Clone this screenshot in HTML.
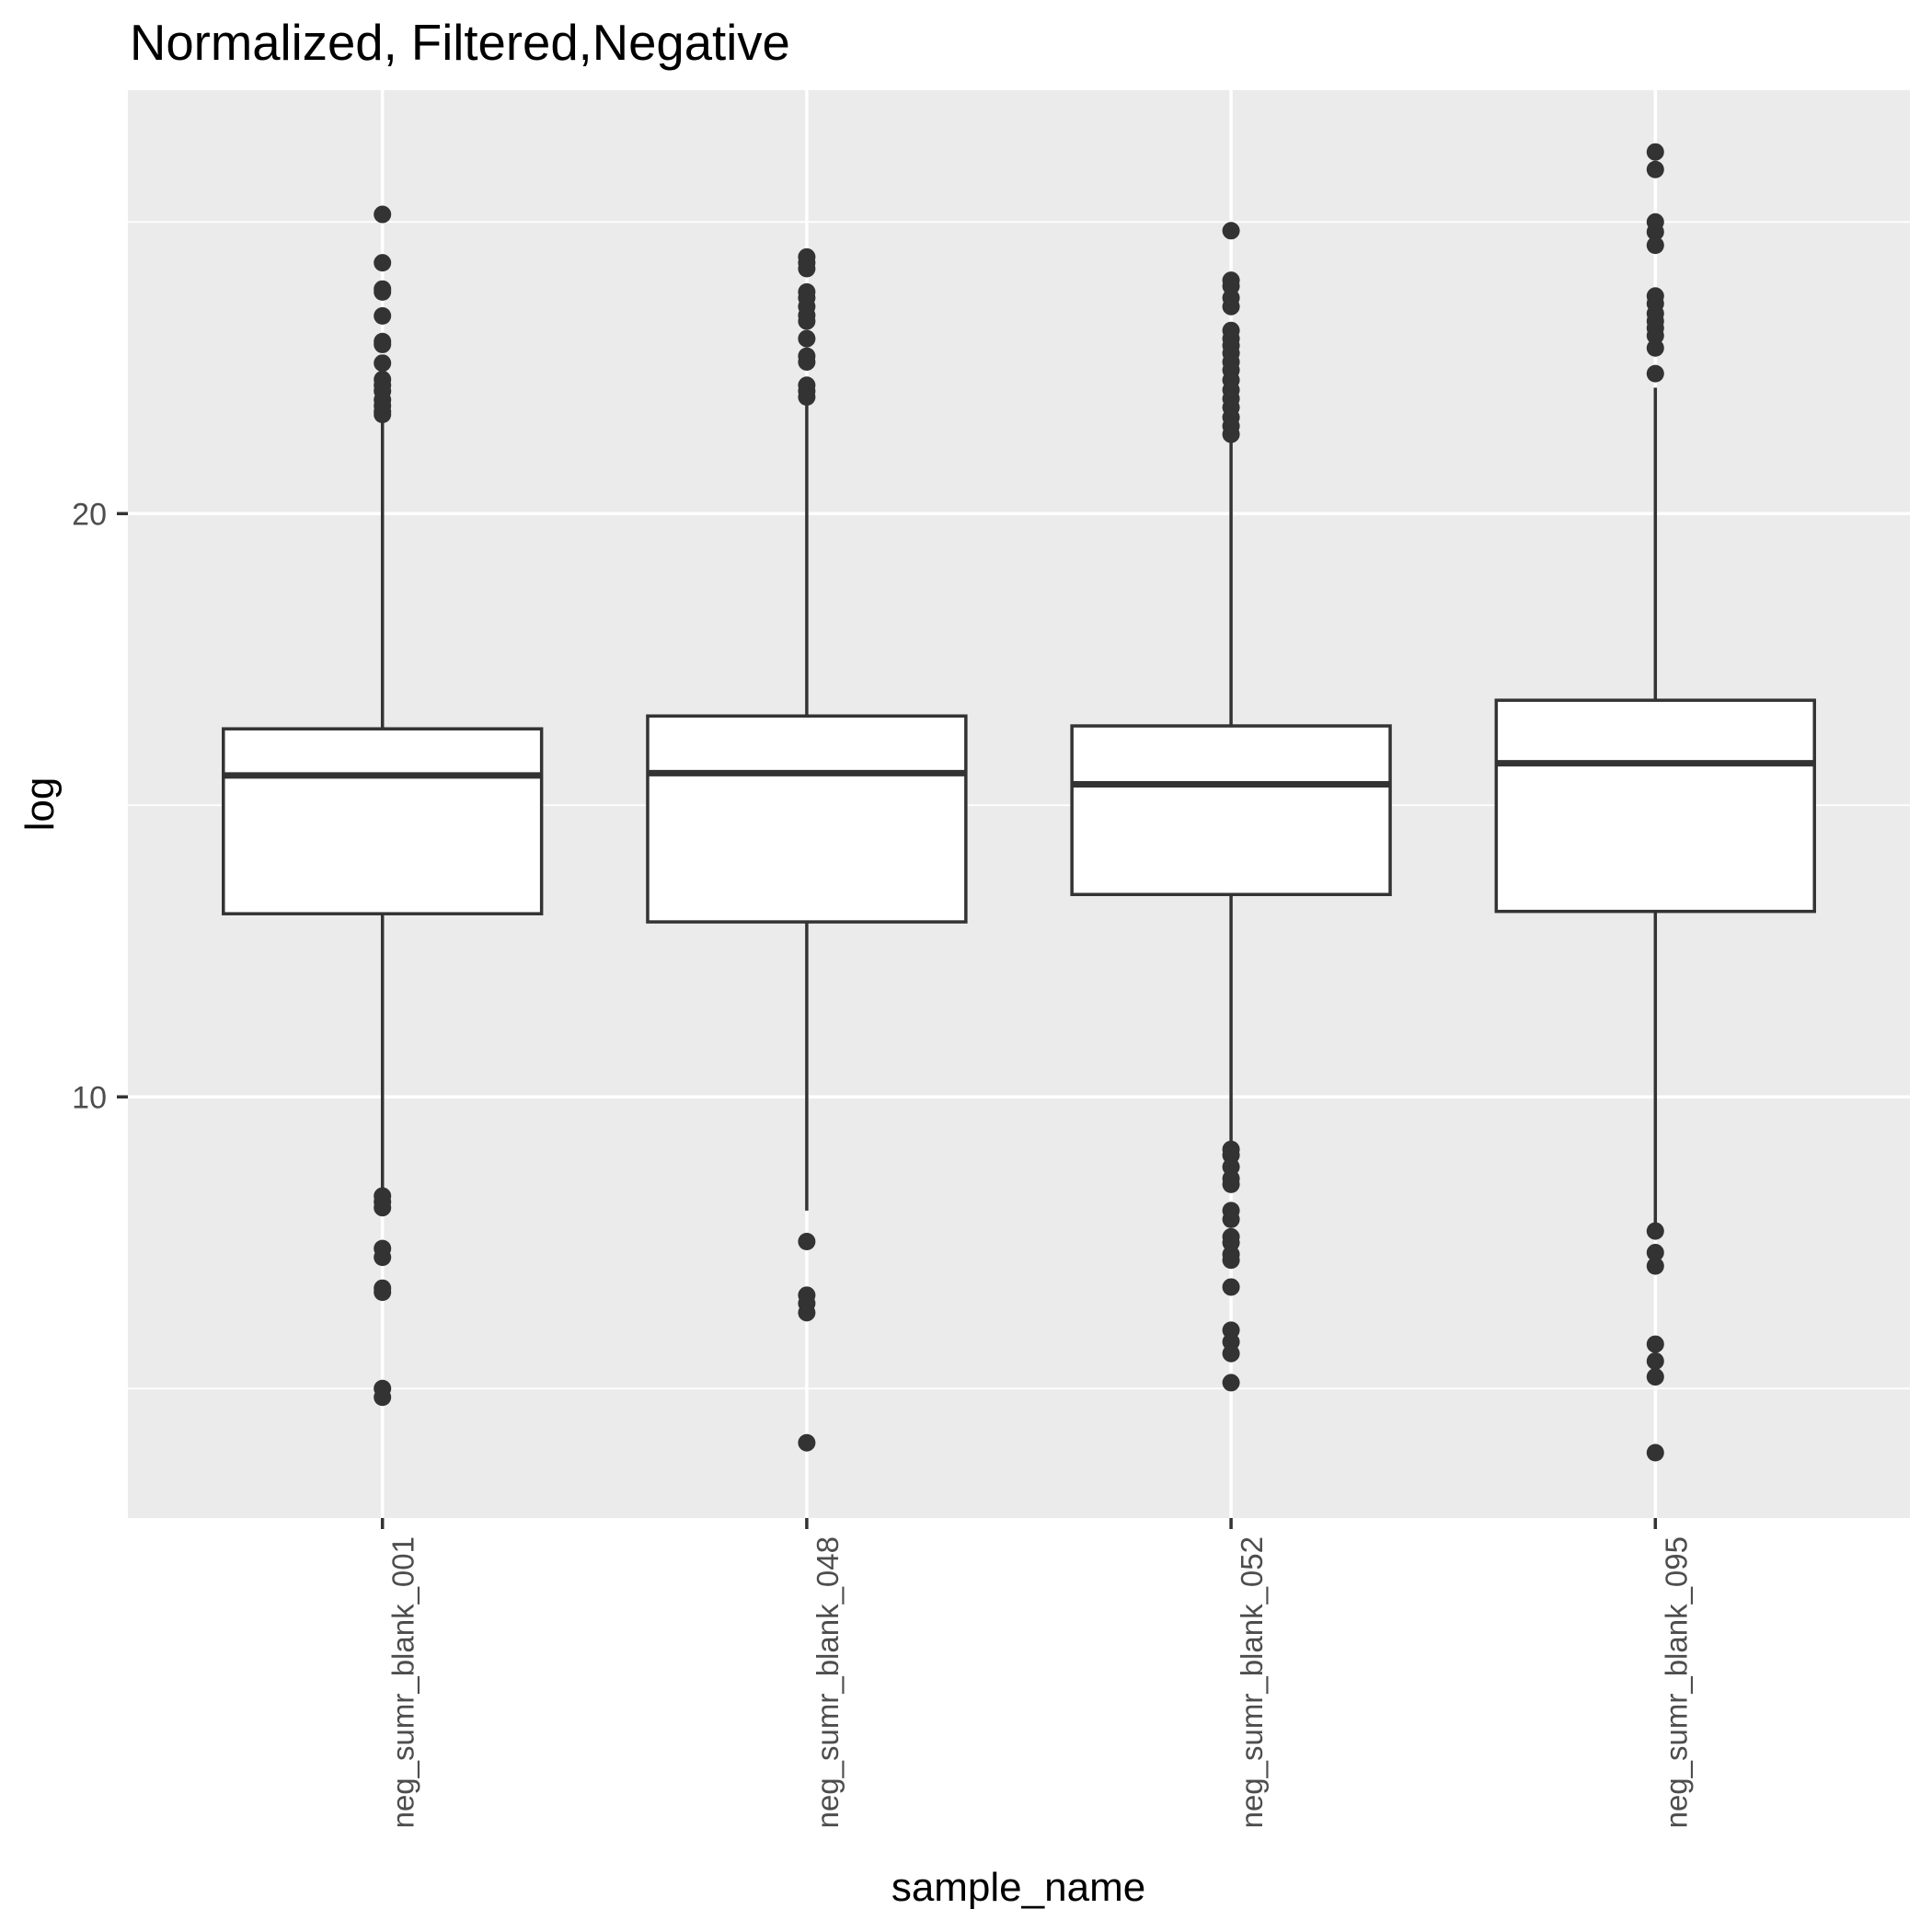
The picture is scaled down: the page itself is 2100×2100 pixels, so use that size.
<!DOCTYPE html>
<html><head><meta charset="utf-8"><style>
html,body{margin:0;padding:0;background:#fff;}
svg{display:block;font-family:"Liberation Sans",Arial,sans-serif;}
</style></head><body>
<svg id="chart" width="2100" height="2100" viewBox="0 0 2100 2100" xmlns="http://www.w3.org/2000/svg">
<text x="141" y="65" font-size="54.5" fill="#000">Normalized, Filtered,Negative</text>
<rect x="139" y="98" width="1937" height="1552" fill="#ebebeb"/>
<g id="grid"></g>
<g id="marks"></g>
<g id="axes"></g>
<text x="1107" y="2066" font-size="44" text-anchor="middle" fill="#000">sample_name</text>
<text transform="translate(58,874) rotate(-90)" font-size="44" text-anchor="middle" fill="#000">log</text>
</svg>
<script>
const categories = ["neg_sumr_blank_001","neg_sumr_blank_048","neg_sumr_blank_052","neg_sumr_blank_095"];
const q1Values = [13.14, 13.0, 13.47, 13.18];
const medianValues = [15.51, 15.55, 15.36, 15.72];
const q3Values = [16.31, 16.53, 16.36, 16.8];
const whiskerLow = [8.41, 8.05, 9.15, 7.75];
const whiskerHigh = [21.69, 21.93, 21.3, 22.16];
const outliers0 = [25.13,24.3,23.85,23.8,23.39,22.95,22.9,22.58,22.3,22.2,22.1,21.95,21.85,21.75,21.7,8.3,8.2,8.1,7.4,7.25,6.72,6.65,5.0,4.85];
const outliers1 = [24.4,24.3,24.2,23.8,23.7,23.55,23.4,23.3,23.0,22.7,22.6,22.2,22.1,22.0,7.52,6.6,6.46,6.3,4.07];
const outliers2 = [24.85,24.0,23.9,23.7,23.55,23.14,23.0,22.88,22.75,22.6,22.46,22.29,22.12,21.97,21.82,21.65,21.5,21.36,9.1,9.0,8.8,8.6,8.5,8.05,7.9,7.6,7.5,7.3,7.2,6.74,6.0,5.8,5.6,5.1];
const outliers3 = [26.2,25.9,25.0,24.83,24.6,23.73,23.6,23.43,23.3,23.18,23.05,22.84,22.4,7.7,7.33,7.1,5.76,5.47,5.2,3.9];
const outlierSets = [outliers0, outliers1, outliers2, outliers3];
const yTicks = [10, 20];
const yMinorTicks = [5, 15, 25];

const NS = "http://www.w3.org/2000/svg";
const P = {l:139, r:2076, t:98, b:1650};
const Y0 = 2.78, Y1 = 27.26;
function yScale(v){ return P.b - (v - Y0) / (Y1 - Y0) * (P.b - P.t); }
const band = (P.r - P.l) / (categories.length - 1 + 1.2);
function xScale(i){ return P.l + (0.6 + i) * band; }
function mk(tag, attrs, parent){ const e=document.createElementNS(NS,tag); for(const k in attrs) e.setAttribute(k,attrs[k]); parent.appendChild(e); return e; }

const grid = document.getElementById('grid');
const marks = document.getElementById('marks');
const axes = document.getElementById('axes');

yMinorTicks.forEach(v=>{
  const l = mk('line',{x1:P.l,x2:P.r,y1:yScale(v),y2:yScale(v),stroke:'#fff','stroke-width':1.7},grid);
  
  
});
yTicks.forEach(v=>{
  const l = mk('line',{x1:P.l,x2:P.r,y1:yScale(v),y2:yScale(v),stroke:'#fff','stroke-width':3.5},grid);
  
  
  const t = mk('line',{x1:127,x2:P.l,y1:yScale(v),y2:yScale(v),stroke:'#333','stroke-width':3.5},axes);
  
  
  const tx = mk('text',{x:116,y:yScale(v)+12,'font-size':34,'text-anchor':'end',fill:'#4d4d4d'},axes);
  tx.textContent = v;
  
  
});
categories.forEach((c,i)=>{
  const x = xScale(i);
  const l = mk('line',{x1:x,x2:x,y1:P.t,y2:P.b,stroke:'#fff','stroke-width':3.5},grid);
  
  
  const t = mk('line',{x1:x,x2:x,y1:P.b,y2:P.b+12,stroke:'#333','stroke-width':3.5},axes);
  
  
  const tx = mk('text',{transform:`translate(${x+34},${P.b+20}) rotate(-90)`,'font-size':33,'text-anchor':'end',fill:'#4d4d4d'},axes);
  tx.textContent = c;
  
  

  const g = mk('g',{},marks);
  
  
  const w = band*0.75;
  const wl = mk('line',{x1:x,x2:x,y1:yScale(whiskerHigh[i]),y2:yScale(q3Values[i]),stroke:'#333','stroke-width':3.5},g);
  
  
  const wl2 = mk('line',{x1:x,x2:x,y1:yScale(q1Values[i]),y2:yScale(whiskerLow[i]),stroke:'#333','stroke-width':3.5},g);
  
  
  const r = mk('rect',{x:x-w/2,y:yScale(q3Values[i]),width:w,height:yScale(q1Values[i])-yScale(q3Values[i]),fill:'#fff',stroke:'#333','stroke-width':3.5},g);
  
  
  const m = mk('line',{x1:x-w/2,x2:x+w/2,y1:yScale(medianValues[i]),y2:yScale(medianValues[i]),stroke:'#333','stroke-width':7},g);
  
  
  outlierSets[i].forEach(v=>{
    const p = mk('circle',{cx:x,cy:yScale(v),r:9.5,fill:'#333'},g);
    
    
  });
});
</script>
</body></html>
